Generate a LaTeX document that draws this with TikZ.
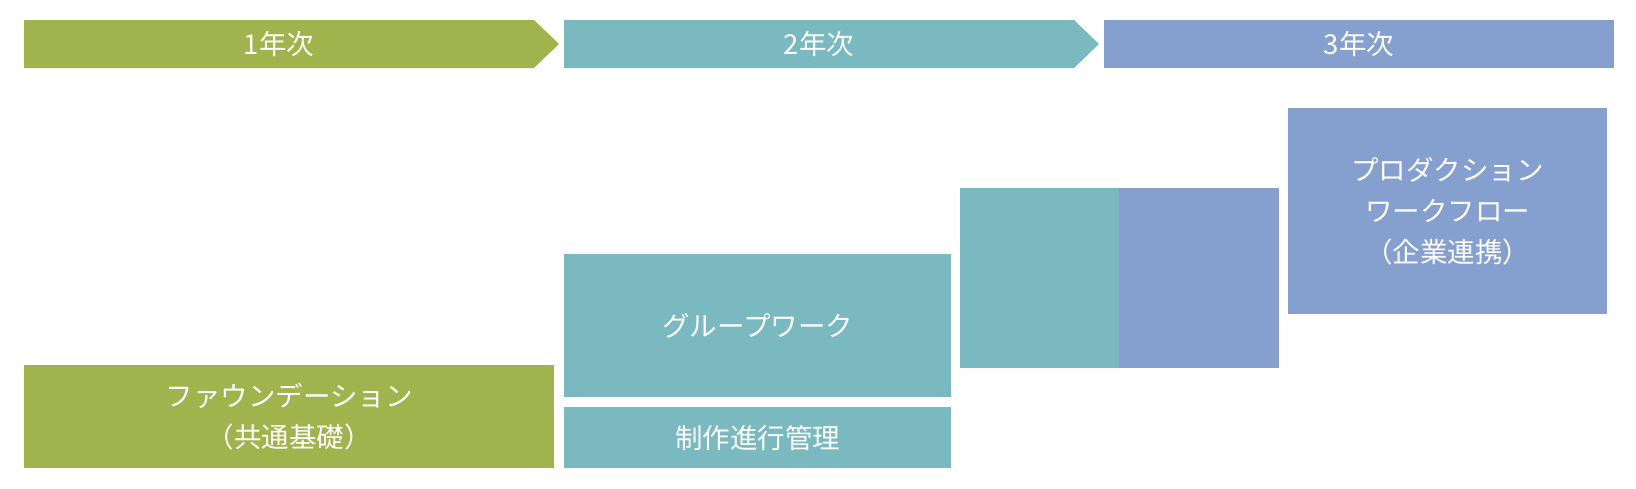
\documentclass[tikz,border=0pt]{standalone}
\usepackage{fontspec}
\newfontfamily\jpfont{Noto Sans CJK JP}
\definecolor{yearA}{HTML}{A1B34D}
\definecolor{yearB}{HTML}{79B9BF}
\definecolor{yearC}{HTML}{85A0CE}

\begin{document}
\begin{tikzpicture}[x=1pt, y=-1pt,
	txt/.style={text=white, font=\jpfont\fontsize{27.5}{41}\selectfont, align=center, inner sep=0pt},
	blockbox/.style={txt, minimum width=#1, anchor=north west}]
	\useasboundingbox (0,0) rectangle (1636,488);

	% year headers
	\foreach \i/\x/\col in {1/24/yearA, 2/564/yearB} {
		\fill[\col] (\x,20) -- ++(510,0) -- ++(25,24) -- ++(-25,24) -- ++(-510,0) -- cycle;
		\node[txt] (year\i) at (\x+255,44) {{\i}年次};
	}
	\fill[yearC] (1104,20) rectangle (1614,68);
	\node[txt] (year3) at (1359,44) {3年次};

	% blocks
	\node[blockbox=530pt, minimum height=103pt, fill=yearA] (found) at (24,365) {ファウンデーション\\（共通基礎）};
	\node[blockbox=387pt, minimum height=143pt, fill=yearB] (group) at (564,254) {グループワーク};
	\node[blockbox=387pt, minimum height=61pt, fill=yearB] (prog) at (564,407) {制作進行管理};
	\node[blockbox=159pt, minimum height=180pt, fill=yearB] (bridgeA) at (960,188) {};
	\node[blockbox=160pt, minimum height=180pt, fill=yearC] (bridgeB) at (1119,188) {};
	\node[blockbox=319pt, minimum height=206pt, fill=yearC] (prod) at (1288,108) {プロダクション\\ワークフロー\\（企業連携）};
\end{tikzpicture}
\end{document}
